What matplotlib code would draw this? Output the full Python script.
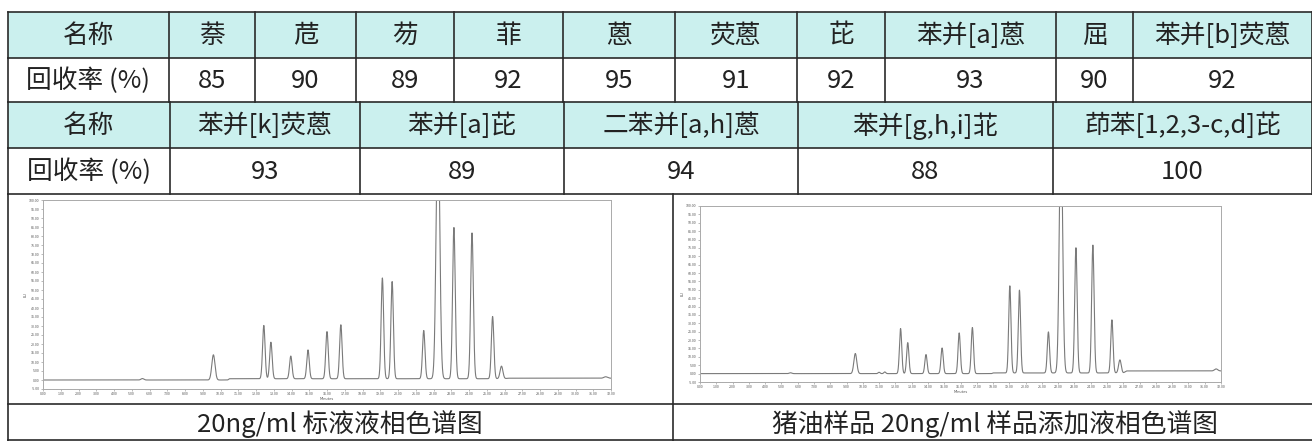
import matplotlib
matplotlib.use("Agg")
import matplotlib.pyplot as plt
import numpy as np

plt.rcParams['font.family'] = ['Noto Sans CJK SC', 'DejaVu Sans']

# table data
names_top = ['名称', '萘', '苊', '芴', '菲', '蒽', '荧蒽', '芘', '苯并[a]蒽', '屈', '苯并[b]荧蒽']
rec_top = ['回收率 (%)', '85', '90', '89', '92', '95', '91', '92', '93', '90', '92']
names_bot = ['名称', '苯并[k]荧蒽', '苯并[a]芘', '二苯并[a,h]蒽', '苯并[g,h,i]苝', '茚苯[1,2,3-c,d]芘']
rec_bot = ['回收率 (%)', '93', '89', '94', '88', '100']
captions = ['20ng/ml 标液液相色谱图', '猪油样品 20ng/ml 样品添加液相色谱图']

# chromatogram peaks (retention time min, height, width)
rt_std = [5.6, 9.6, 12.44, 12.84, 13.96, 14.93, 16.0, 16.78, 19.12, 19.67, 21.45, 22.25, 23.15, 24.17, 25.33, 25.83, 31.7]
h_std = [0.8, 14, 29.6, 20.3, 12.6, 16, 26.2, 30, 56, 54, 26.8, 150, 84, 81, 34.6, 7, 0.8]
w_std = [0.08, 0.09, 0.07, 0.07, 0.07, 0.07, 0.07, 0.07, 0.07, 0.07, 0.07, 0.1, 0.075, 0.075, 0.07, 0.08, 0.1]
base_t_std = [0, 10.4, 10.5, 26.0, 26.2, 32]
base_v_std = [0, 0, 0.7, 0.7, 1.0, 1.0]

rt_smp = [5.56, 9.54, 11.0, 11.35, 12.32, 12.76, 13.88, 14.87, 15.92, 16.73, 19.03, 19.62, 21.4, 22.17, 23.09, 24.13, 25.3, 25.79, 31.7]
h_smp = [0.5, 12, 0.8, 1.0, 26.9, 18.5, 11.4, 15.3, 24.3, 27.5, 52, 49.4, 24.5, 150, 74.7, 76.3, 31.7, 7.8, 1.2]
w_smp = [0.08, 0.09, 0.06, 0.06, 0.07, 0.07, 0.07, 0.07, 0.07, 0.07, 0.07, 0.07, 0.07, 0.1, 0.075, 0.075, 0.07, 0.08, 0.1]
base_t_smp = [0, 17.9, 18.0, 26.0, 26.2, 32]
base_v_smp = [0, 0, 0.4, 0.4, 1.6, 1.6]

W, H = 1312, 441
fig = plt.figure(figsize=(W / 100, H / 100), dpi=100)
ax = fig.add_axes([0, 0, 1, 1])
ax.set_xlim(0, W)
ax.set_ylim(H, 0)
ax.axis('off')

head_col = '#cbf0ee'
line_col = '#2a2a2a'
txt_col = '#222222'
fs = 18.5

rows_y = [12, 58, 102, 148, 194]
cols_top = [8, 169, 255, 356, 454, 563, 675, 797, 885, 1056, 1133, 1312]
cols_bot = [8, 170, 360, 564, 798, 1053, 1312]

def draw_row(y0, y1, cols, labels, fill):
    if fill:
        ax.add_patch(plt.Rectangle((cols[0], y0), cols[-1] - cols[0], y1 - y0,
                                   facecolor=fill, edgecolor='none', zorder=0))
    for i, lab in enumerate(labels):
        ax.text((cols[i] + cols[i + 1]) / 2, (y0 + y1) / 2 + 1, lab, ha='center', va='center',
                fontsize=fs, color=txt_col)
    for x in cols:
        ax.plot([x, x], [y0, y1], color=line_col, lw=1.2)

draw_row(rows_y[0], rows_y[1], cols_top, names_top, head_col)
draw_row(rows_y[1], rows_y[2], cols_top, rec_top, None)
draw_row(rows_y[2], rows_y[3], cols_bot, names_bot, head_col)
draw_row(rows_y[3], rows_y[4], cols_bot, rec_bot, None)

for y in rows_y + [404, 440]:
    ax.plot([8, W], [y, y], color=line_col, lw=1.2)
ax.plot([8, 8], [194, 441], color=line_col, lw=1.2)
ax.plot([673, 673], [194, 441], color=line_col, lw=1.2)

ax.text(340, 424, captions[0], ha='center', va='center', fontsize=fs, color=txt_col)
ax.text(995, 424, captions[1], ha='center', va='center', fontsize=fs, color=txt_col)

t = np.linspace(0, 32, 6000)

def trace(rts, hs, ws, bt, bv):
    y = np.interp(t, bt, bv)
    for r, h, w in zip(rts, hs, ws):
        y = y + h * np.exp(-0.5 * ((t - r) / w) ** 2)
    return y

def chrom(box, rts, hs, ws, bt, bv):
    x0, y0, x1, y1 = box
    cax = fig.add_axes([x0 / W, 1 - y1 / H, (x1 - x0) / W, (y1 - y0) / H])
    cax.plot(t, trace(rts, hs, ws, bt, bv), color='#7a7a7a', lw=0.8)
    cax.set_xlim(0, 32)
    cax.set_ylim(-5, 100)
    cax.set_xticks(np.arange(0, 33, 1))
    cax.set_xticklabels(['%.2f' % v for v in np.arange(0, 33, 1)])
    cax.set_xticks(np.arange(0, 32, 0.2), minor=True)
    cax.set_yticks(np.arange(-5, 101, 5))
    cax.set_yticklabels(['%.2f' % v for v in np.arange(-5, 101, 5)])
    cax.tick_params(labelsize=2.6, labelcolor='#555555', color='#888888', length=1.5, width=0.4, pad=1)
    cax.tick_params(which='minor', length=0.8, width=0.3, color='#888888')
    cax.set_xlabel('Minutes', fontsize=2.6, color='#555555', labelpad=0.5, family='DejaVu Sans')
    cax.set_ylabel('EU', fontsize=2.6, color='#555555', labelpad=1, family='DejaVu Sans')
    for s in cax.spines.values():
        s.set_color('#aaaaaa')
        s.set_linewidth(0.7)

chrom((43, 200, 611, 389), rt_std, h_std, w_std, base_t_std, base_v_std)
chrom((700, 206, 1221, 382), rt_smp, h_smp, w_smp, base_t_smp, base_v_smp)

fig.savefig('out.png', dpi=100)
